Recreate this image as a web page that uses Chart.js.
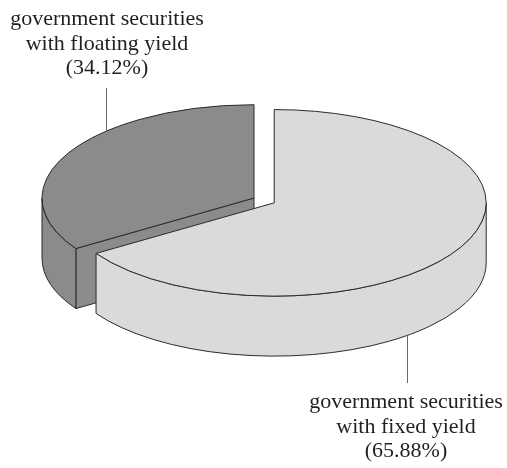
<!DOCTYPE html>
<html>
<head>
<meta charset="utf-8">
<script src="https://cdn.jsdelivr.net/npm/chart.js@4.4.1/dist/chart.umd.min.js"></script>
<style>
html,body{margin:0;padding:0;background:#fff;}
canvas{display:block;}
</style>
</head>
<body>
<canvas id="pie" width="507" height="468"></canvas>
<script>
const categories=['government securities\nwith fixed yield','government securities\nwith floating yield'];
const shares=[65.88,34.12];
const colors=['#dadada','#8b8b8d'];

const TILT=0.44;
const DEPTH=60;
const PULL=[23,0];
const EDGE='#2b2b2b';

// where each caption sits and where its leader line stops
const captions=[
{x:406,y:408,lineX:407,lineEnd:383,rim:'front'},
{x:107,y:25,lineX:106,lineEnd:88,rim:'back'}
];

function centerOf(arc,cy)
{
return {x:arc.x,y:cy+(arc.y-cy)*TILT};
}

function midY(chart)
{
return (chart.chartArea.top+chart.chartArea.bottom)/2;
}

const pie3d={
id:'pie3d',
afterDatasetUpdate(chart,args)
{
args.meta.data.forEach((arc,i)=>
{
const mid=(arc.startAngle+arc.endAngle)/2;
arc.x+=Math.cos(mid)*PULL[i];
arc.y+=Math.sin(mid)*PULL[i];
});
},
beforeDatasetsDraw(chart)
{
const ctx=chart.ctx;
const cy=midY(chart);
const arcs=chart.getDatasetMeta(0).data.slice();
arcs.sort((a,b)=>a.y-b.y);
ctx.save();
ctx.lineWidth=1;
ctx.strokeStyle=EDGE;
ctx.lineJoin='round';
arcs.forEach(arc=>
{
const c=centerOf(arc,cy);
const R=arc.outerRadius;
const a0=arc.startAngle,a1=arc.endAngle;
ctx.fillStyle=arc.options.backgroundColor;
// cut faces turned toward the viewer
[[a0,Math.cos(a0)<-1e-6],[a1,Math.cos(a1)>1e-6]].forEach(([a,show])=>
{
if(!show) return;
const px=c.x+R*Math.cos(a),py=c.y+R*TILT*Math.sin(a);
ctx.beginPath();
ctx.moveTo(c.x,c.y);
ctx.lineTo(px,py);
ctx.lineTo(px,py+DEPTH);
ctx.lineTo(c.x,c.y+DEPTH);
ctx.closePath();
ctx.fill();
ctx.stroke();
});
// outer wall on the front half
[-2*Math.PI,0,2*Math.PI].forEach(base=>
{
const s=Math.max(a0,base),e=Math.min(a1,base+Math.PI);
if(e<=s) return;
ctx.beginPath();
ctx.ellipse(c.x,c.y,R,R*TILT,0,s,e);
ctx.ellipse(c.x,c.y+DEPTH,R,R*TILT,0,e,s,true);
ctx.closePath();
ctx.fill();
ctx.stroke();
});
});
ctx.restore();
ctx.save();
ctx.translate(0,cy);
ctx.scale(1,TILT);
ctx.translate(0,-cy);
},
afterDatasetsDraw(chart)
{
const ctx=chart.ctx;
ctx.restore();
const cy=midY(chart);
ctx.save();
ctx.lineWidth=1;
ctx.strokeStyle=EDGE;
ctx.lineJoin='round';
chart.getDatasetMeta(0).data.forEach(arc=>
{
const c=centerOf(arc,cy);
ctx.beginPath();
ctx.moveTo(c.x,c.y);
ctx.ellipse(c.x,c.y,arc.outerRadius,arc.outerRadius*TILT,0,arc.startAngle,arc.endAngle);
ctx.closePath();
ctx.stroke();
});
ctx.restore();
},
afterDraw(chart)
{
const ctx=chart.ctx;
const cy=midY(chart);
const arcs=chart.getDatasetMeta(0).data;
ctx.save();
ctx.font='22px "Liberation Serif", "DejaVu Serif", serif';
ctx.fillStyle='#231f20';
ctx.textAlign='center';
ctx.textBaseline='alphabetic';
categories.forEach((name,i)=>
{
const cap=captions[i];
const lines=name.split('\n').concat('('+shares[i].toFixed(2)+'%)');
lines.forEach((t,j)=>ctx.fillText(t,cap.x,cap.y+j*24.5));
// leader from the slice rim to the caption
const arc=arcs[i];
const c=centerOf(arc,cy);
const R=arc.outerRadius;
const dx=(cap.lineX-c.x)/R;
const h=R*TILT*Math.sqrt(Math.max(0,1-dx*dx));
const rimY=cap.rim==='front'?c.y+h+DEPTH:c.y-h;
ctx.beginPath();
ctx.strokeStyle='#6a6a6a';
ctx.lineWidth=1;
ctx.moveTo(cap.lineX+0.5,rimY);
ctx.lineTo(cap.lineX+0.5,cap.lineEnd);
ctx.stroke();
});
ctx.restore();
}
};

new Chart(document.getElementById('pie'),
{
type:'pie',
data:{
labels:categories,
datasets:[{
data:shares,
backgroundColor:colors,
borderWidth:0
}]
},
options:{
responsive:false,
animation:false,
radius:212,
layout:{padding:{left:1,right:0,top:0,bottom:72}},
plugins:{legend:{display:false},tooltip:{enabled:false}},
events:[]
},
plugins:[pie3d]
});
</script>
</body>
</html>
